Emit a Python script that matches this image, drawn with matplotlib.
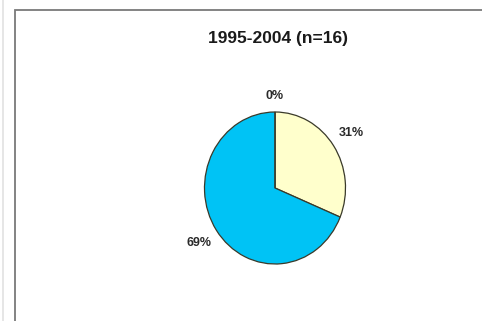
import matplotlib.pyplot as plt
from matplotlib.patches import Rectangle
from matplotlib.lines import Line2D

# Share of cases per category, 1995-2004
title = "1995-2004 (n=16)"
counts = [5, 11, 0]
colors = ["#FFFFCC", "#00C3F5", "#9999FF"]

plt.rcParams["font.family"] = ["Liberation Sans", "DejaVu Sans"]

fig = plt.figure(figsize=(4.82, 3.21), dpi=100)
fig.patch.set_facecolor("white")

# chart area border (runs off the right and bottom edges)
fig.add_artist(Rectangle((15 / 482, -0.05), 1.0, 1 - 9.5 / 321 + 0.05,
                         transform=fig.transFigure, fill=False,
                         edgecolor="#7a7a7a", linewidth=1.3))
fig.add_artist(Line2D([2.5 / 482, 2.5 / 482], [0, 1], transform=fig.transFigure,
                      color="#e2e2e2", linewidth=1.2))

fig.text(278 / 482, 1 - 39 / 321, title, ha="center", va="center",
         fontsize=12.5, fontweight="bold", color="#1a1a1a")

# pie axes: centre (275, 188), slightly taller than wide
cx, cy, rx, ry = 275, 188, 70.5, 76
w, h = 2 * rx * 1.5, 2 * ry * 1.5
ax = fig.add_axes([(cx - w / 2) / 482, 1 - (cy + h / 2) / 321, w / 482, h / 321])

wedges, texts, autotexts = ax.pie(
    counts, colors=colors, startangle=90, counterclock=False,
    autopct="%1.0f%%", pctdistance=1.3, radius=1.0,
    wedgeprops=dict(edgecolor="#3a3a2a", linewidth=0.9),
    textprops=dict(fontsize=9, fontweight="bold", color="#2a2a2a"),
    normalize=True,
)
# the empty slice label sits a little closer to the rim
x0, y0 = autotexts[2].get_position()
autotexts[2].set_position((x0, y0 * 0.93))

ax.set_xlim(-1.5, 1.5)
ax.set_ylim(-1.5, 1.5)
ax.set_aspect("auto")
ax.axis("off")

fig.savefig("out.png", dpi=100)
